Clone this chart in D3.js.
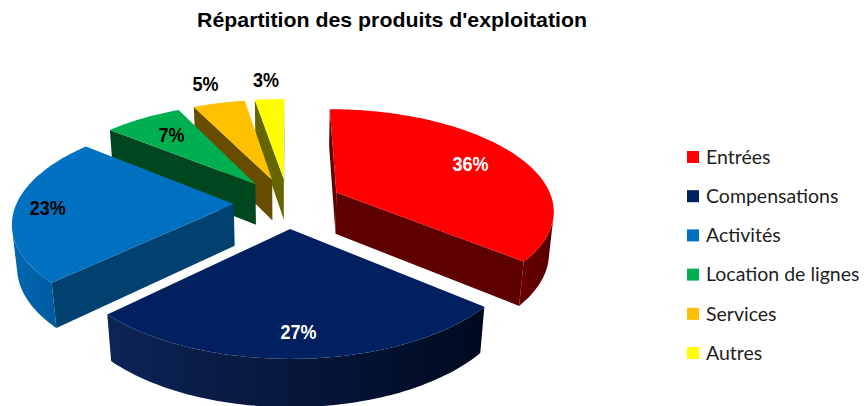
<!DOCTYPE html>
<html>
<head>
<meta charset="utf-8">
<script src="https://cdn.jsdelivr.net/npm/d3@7"></script>
<style>
  body { margin: 0; background: #fff; }
  svg { display: block; }
</style>
</head>
<body>
<div id="chart"></div>
<script>
  /**
   * DATA
   * */
  const categories = ["Entrées", "Compensations", "Activités", "Location de lignes", "Services", "Autres"];
  const values = [36.1, 26.6, 23.2, 6.9, 4.6, 2.6];
  const title = "Répartition des produits d'exploitation";

  const topColors = ["#ff0000", "#002060", "#0070c0", "#00b050", "#ffc000", "#ffff00"];
  const radialColors = ["#5e0000", "#001440", "#00416f", "#00461f", "#684c00", "#666600"];
  const wallColors = [["#6a0000", "#560000"], ["#0d2456", "#000a20"], ["#0068b4", "#005a9e"], ["#004a22", "#004a22"], ["#684c00", "#684c00"], ["#666600", "#666600"]];
  const labelColors = ["#fff", "#fff", "#000", "#000", "#000", "#000"];

  /**
   * CONSTANTS
   * */
  const width = 866, height = 406;
  const cx = 288, cy = 203;      // pie centre on screen
  const S = 217;                 // screen radius scale
  const sinP = 0.46, cosP = Math.sqrt(1 - sinP * sinP);
  const persp = 0.18;            // perspective strength (R / camera distance)
  const thick = 0.22;            // slice height (in radii)
  const explode = 0.25;          // explosion distance (in radii)
  const cam = [0, -cosP / persp, sinP / persp];
  const fmt = v => d3.format(".0f")(v) + "%";

  function proj(X, Y, Z) {
    const k = 1 + persp * (Y * cosP - Z * sinP);
    return [cx + S * X / k, cy - S * (Y * sinP + Z * cosP) / k];
  }

  const svg = d3.select("#chart").append("svg")
    .attr("width", width).attr("height", height);
  const defs = svg.append("defs");

  // title
  svg.append("text")
    .attr("x", 392).attr("y", 27)
    .attr("text-anchor", "middle")
    .attr("font-family", "Liberation Sans, Arial, sans-serif")
    .attr("font-weight", "bold")
    .attr("font-size", 21)
    .attr("textLength", 390)
    .attr("lengthAdjust", "spacingAndGlyphs")
    .text(title);

  const pie = d3.pie().sort(null).value(d => d);
  const arcs = pie(values).map((d, i) => {
    const mid = (d.startAngle + d.endAngle) / 2;
    return { ...d, i, mid, ox: explode * Math.sin(mid), oy: explode * Math.cos(mid) };
  });

  const line = pts => "M" + pts.map(p => p.join(",")).join("L") + "Z";

  function visible(P, n) {
    return (cam[0] - P[0]) * n[0] + (cam[1] - P[1]) * n[1] + (cam[2] - P[2]) * n[2] > 0;
  }

  // back slices first
  const order = arcs.slice().sort((a, b) => b.oy - a.oy);

  order.forEach(d => {
    const g = svg.append("g").attr("class", "slice");
    const steps = Math.max(8, Math.ceil((d.endAngle - d.startAngle) / 0.02));
    const angs = d3.range(steps + 1).map(j => d.startAngle + (d.endAngle - d.startAngle) * j / steps);
    const pt = (t, Z) => proj(d.ox + Math.sin(t), d.oy + Math.cos(t), Z);

    // radial faces
    [[d.startAngle, [-Math.cos(d.startAngle), Math.sin(d.startAngle), 0]],
     [d.endAngle, [Math.cos(d.endAngle), -Math.sin(d.endAngle), 0]]].forEach(([t, n]) => {
      const P = [d.ox + 0.5 * Math.sin(t), d.oy + 0.5 * Math.cos(t), 0];
      if (!visible(P, n)) return;
      g.append("path")
        .attr("d", line([proj(d.ox, d.oy, 0), pt(t, 0), pt(t, -thick), proj(d.ox, d.oy, -thick)]))
        .attr("fill", radialColors[d.i]);
    });

    // curved outer wall, visible runs only
    const runs = [];
    let cur = null;
    angs.forEach(t => {
      const P = [d.ox + Math.sin(t), d.oy + Math.cos(t), 0];
      if (visible(P, [Math.sin(t), Math.cos(t), 0])) {
        if (!cur) { cur = []; runs.push(cur); }
        cur.push(t);
      } else cur = null;
    });
    const gid = "wall" + d.i;
    const grad = defs.append("linearGradient").attr("id", gid)
      .attr("x1", 0).attr("x2", 1).attr("y1", 0).attr("y2", 0);
    grad.append("stop").attr("offset", 0).attr("stop-color", wallColors[d.i][0]);
    grad.append("stop").attr("offset", 1).attr("stop-color", wallColors[d.i][1]);
    runs.filter(r => r.length > 1).forEach(r => {
      const pts = r.map(t => pt(t, 0)).concat(r.slice().reverse().map(t => pt(t, -thick)));
      g.append("path").attr("d", line(pts)).attr("fill", `url(#${gid})`);
    });

    // top face
    const top = [proj(d.ox, d.oy, 0)].concat(angs.map(t => pt(t, 0)));
    g.append("path").attr("d", line(top)).attr("fill", topColors[d.i]);
  });

  // value labels
  const labelR = [0.74, 0.82, 0.85, 0.72, 1.3, 1.3];
  const labelPos = d => proj(d.ox + labelR[d.i] * Math.sin(d.mid), d.oy + labelR[d.i] * Math.cos(d.mid), 0);
  svg.selectAll("text.val")
    .data(arcs)
    .join("text")
    .attr("class", "val")
    .attr("transform", d => `translate(${labelPos(d)[0]},${labelPos(d)[1]}) scale(0.9,1)`)
    .attr("dy", "0.36em")
    .attr("text-anchor", "middle")
    .attr("font-family", "Liberation Sans, Arial, sans-serif")
    .attr("font-weight", "bold")
    .attr("font-size", 20)
    .attr("fill", d => labelColors[d.i])
    .text(d => fmt(d.data));

  // legend
  const yLeg = d3.scalePoint().domain(categories).range([157, 353]);
  const leg = svg.selectAll("g.legend")
    .data(categories)
    .join("g")
    .attr("class", "legend")
    .attr("transform", d => `translate(687, ${yLeg(d)})`);
  leg.append("rect")
    .attr("x", 0).attr("y", -6).attr("width", 12).attr("height", 12)
    .attr("fill", (d, i) => topColors[i]);
  leg.append("text")
    .attr("x", 19).attr("dy", "0.35em")
    .attr("font-family", "Lato, Open Sans, sans-serif")
    .attr("font-size", 19.5)
    .attr("fill", "#1e1e1e")
    .text(d => d);
</script>
</body>
</html>
